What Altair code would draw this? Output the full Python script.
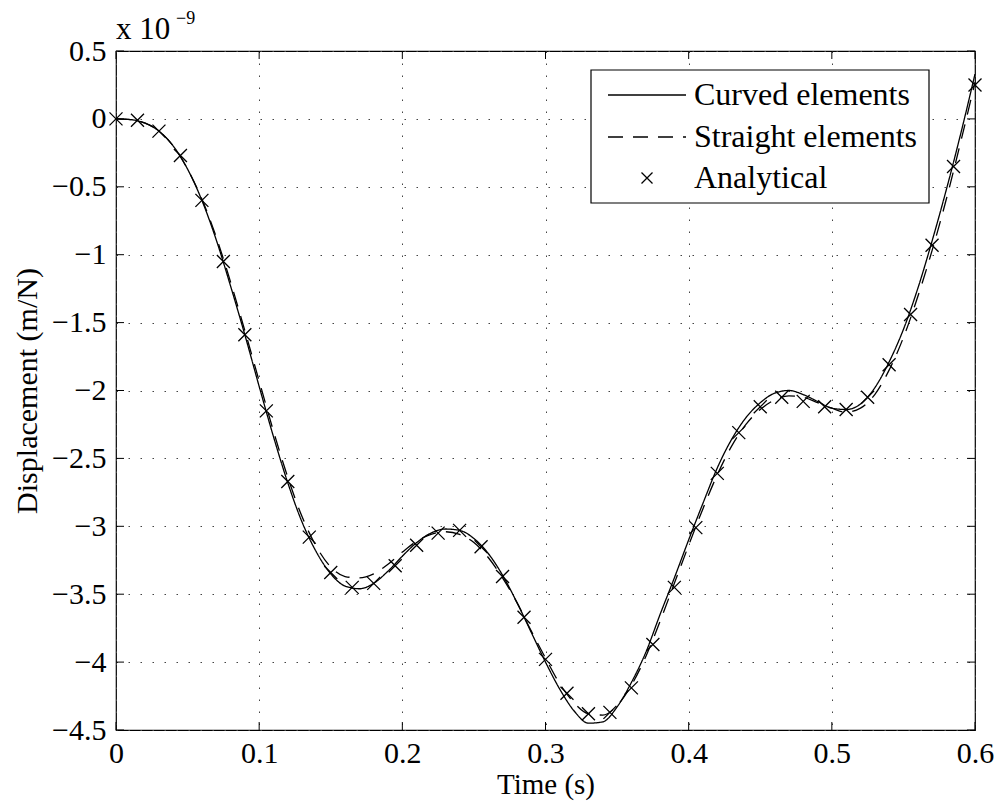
import altair as alt
import pandas as pd

# ---- data (units: 1e-9 m/N) ----
t_curve = [0.00, 0.01, 0.02, 0.03, 0.04, 0.05, 0.06, 0.07, 0.08, 0.09,
           0.10, 0.11, 0.12, 0.13, 0.14, 0.15, 0.16, 0.17, 0.18, 0.19,
           0.20, 0.21, 0.22, 0.23, 0.24, 0.25, 0.26, 0.27, 0.28, 0.29,
           0.30, 0.31, 0.32, 0.33, 0.34, 0.35, 0.36, 0.37, 0.38, 0.39,
           0.40, 0.41, 0.42, 0.43, 0.44, 0.45, 0.46, 0.47, 0.48, 0.49,
           0.50, 0.51, 0.52, 0.53, 0.54, 0.55, 0.56, 0.57, 0.58, 0.59, 0.60]

curved = [0.000, -0.005, -0.03, -0.09, -0.20, -0.37, -0.60, -0.89, -1.23, -1.59,
          -1.97, -2.34, -2.68, -2.97, -3.19, -3.35, -3.44, -3.46, -3.42, -3.33,
          -3.22, -3.12, -3.05, -3.02, -3.03, -3.09, -3.20, -3.36, -3.56, -3.78,
          -4.00, -4.20, -4.36, -4.45, -4.44, -4.33, -4.15, -3.93, -3.65, -3.38,
          -3.10, -2.83, -2.57, -2.36, -2.20, -2.09, -2.02, -2.00, -2.03, -2.08,
          -2.13, -2.14, -2.10, -1.98, -1.79, -1.55, -1.25, -0.90, -0.52, -0.11, 0.33]

straight = [0.000, -0.005, -0.03, -0.09, -0.20, -0.37, -0.59, -0.87, -1.20, -1.56,
            -1.93, -2.30, -2.64, -2.93, -3.15, -3.30, -3.37, -3.38, -3.35, -3.28,
            -3.19, -3.11, -3.06, -3.04, -3.06, -3.12, -3.23, -3.38, -3.56, -3.77,
            -3.97, -4.16, -4.30, -4.38, -4.39, -4.32, -4.17, -3.96, -3.70, -3.42,
            -3.14, -2.87, -2.62, -2.41, -2.25, -2.14, -2.07, -2.04, -2.05, -2.09,
            -2.13, -2.16, -2.13, -2.03, -1.85, -1.61, -1.31, -0.97, -0.59, -0.17, 0.27]

t_analytical = [0.000, 0.015, 0.030, 0.045, 0.060, 0.075, 0.090, 0.105, 0.120, 0.135,
                0.150, 0.165, 0.180, 0.195, 0.210, 0.225, 0.240, 0.255, 0.270, 0.285,
                0.300, 0.315, 0.330, 0.345, 0.360, 0.375, 0.390, 0.405, 0.420, 0.435,
                0.450, 0.465, 0.480, 0.495, 0.510, 0.525, 0.540, 0.555, 0.570, 0.585, 0.600]
analytical = [0.00, -0.01, -0.09, -0.27, -0.60, -1.05, -1.59, -2.15, -2.67, -3.08,
              -3.34, -3.45, -3.42, -3.29, -3.14, -3.05, -3.03, -3.15, -3.37, -3.67,
              -3.98, -4.23, -4.38, -4.37, -4.19, -3.87, -3.45, -3.01, -2.61, -2.31,
              -2.12, -2.05, -2.08, -2.12, -2.14, -2.05, -1.81, -1.44, -0.93, -0.35, 0.25]

series_names = ["Curved elements", "Straight elements", "Analytical"]
x_ticks = [0, 0.1, 0.2, 0.3, 0.4, 0.5, 0.6]
y_ticks = [0.5, 0, -0.5, -1, -1.5, -2, -2.5, -3, -3.5, -4, -4.5]

W, H = 859, 679
FONT = "Liberation Serif"
XMARK = "M-1,-1L1,1M-1,1L1,-1"

lines_df = pd.DataFrame({
    "t": t_curve + t_curve,
    "y": curved + straight,
    "series": [series_names[0]] * len(t_curve) + [series_names[1]] * len(t_curve),
})
pts_df = pd.DataFrame({"t": t_analytical, "y": analytical})

xs = alt.Scale(domain=[0, 0.6], nice=False, zero=False)
ys = alt.Scale(domain=[-4.5, 0.5], nice=False, zero=False)

x_axis = alt.Axis(values=x_ticks, format="~g", title="Time (s)", grid=True,
                  gridDash=[1.5, 10.5], gridColor="#444", gridWidth=1,
                  ticks=False, domain=False, labelFont=FONT, labelFontSize=30,
                  labelColor="black", labelPadding=8, titleFont=FONT,
                  titleFontSize=29, titleFontWeight="normal", titleColor="black",
                  titlePadding=2, labelFlush=False)
y_axis = alt.Axis(values=y_ticks, format="~g", title="Displacement (m/N)", grid=True,
                  gridDash=[1.5, 10.5], gridColor="#444", gridWidth=1,
                  ticks=False, domain=False, labelFont=FONT, labelFontSize=30,
                  labelColor="black", labelPadding=10,
                  labelExpr="replace(datum.label, '-', '\u2212')",
                  titleFont=FONT, titleFontSize=30, titleFontWeight="normal",
                  titleColor="black", titlePadding=9, labelFlush=False)

lines = alt.Chart(lines_df).mark_line(interpolate="monotone", color="black",
                                      strokeWidth=1.3, clip=True).encode(
    x=alt.X("t:Q", scale=xs, axis=x_axis),
    y=alt.Y("y:Q", scale=ys, axis=y_axis),
    strokeDash=alt.StrokeDash("series:N",
                              scale=alt.Scale(domain=series_names[:2],
                                              range=[[1, 0], [15, 10]]),
                              legend=None),
    detail="series:N",
)

points = alt.Chart(pts_df).mark_point(shape=XMARK, size=169, filled=False,
                                      color="black", strokeWidth=1.3,
                                      opacity=1).encode(
    x=alt.X("t:Q", scale=xs),
    y=alt.Y("y:Q", scale=ys),
)

# inward tick marks on all four sides
xt_df = pd.DataFrame({"t": x_ticks})
yt_df = pd.DataFrame({"y": y_ticks})
tick_bottom = alt.Chart(xt_df).mark_rule(color="black", strokeWidth=1).encode(
    x=alt.X("t:Q", scale=xs), y=alt.value(H), y2=alt.value(H - 8))
tick_top = alt.Chart(xt_df).mark_rule(color="black", strokeWidth=1).encode(
    x=alt.X("t:Q", scale=xs), y=alt.value(0), y2=alt.value(8))
tick_left = alt.Chart(yt_df).mark_rule(color="black", strokeWidth=1).encode(
    y=alt.Y("y:Q", scale=ys), x=alt.value(0), x2=alt.value(8))
tick_right = alt.Chart(yt_df).mark_rule(color="black", strokeWidth=1).encode(
    y=alt.Y("y:Q", scale=ys), x=alt.value(W), x2=alt.value(W - 8))

# exponent annotation
one = pd.DataFrame({"a": [0]})
exp_base = alt.Chart(one).mark_text(text="x 10", font=FONT, fontSize=31,
                                    align="left", baseline="alphabetic",
                                    color="black").encode(
    x=alt.value(0), y=alt.value(-12))
exp_sup = alt.Chart(one).mark_text(text="\u22129", font=FONT, fontSize=18,
                                   align="left", baseline="alphabetic",
                                   color="black").encode(
    x=alt.value(60), y=alt.value(-27))

# legend box
LX0, LX1, LY0, LY1 = 475, 813, 19, 152
row_y = [44, 86, 127]
leg_box = alt.Chart(one).mark_rect(fill="white", stroke="black",
                                   strokeWidth=1.2).encode(
    x=alt.value(LX0), x2=alt.value(LX1), y=alt.value(LY0), y2=alt.value(LY1))
leg_l1 = alt.Chart(one).mark_rule(color="black", strokeWidth=1.3).encode(
    x=alt.value(492), x2=alt.value(570), y=alt.value(row_y[0]))
leg_l2 = alt.Chart(one).mark_rule(color="black", strokeWidth=1.3,
                                  strokeDash=[15, 10]).encode(
    x=alt.value(492), x2=alt.value(570), y=alt.value(row_y[1]))
leg_pt = alt.Chart(one).mark_point(shape=XMARK, size=121, filled=False,
                                   color="black", strokeWidth=1.3,
                                   opacity=1).encode(
    x=alt.value(531), y=alt.value(row_y[2]))
leg_text_df = pd.DataFrame({"label": series_names, "py": row_y})
leg_text = alt.Chart(leg_text_df).mark_text(font=FONT, fontSize=32, align="left",
                                            baseline="middle",
                                            color="black").encode(
    x=alt.value(578),
    y=alt.Y("py:Q", scale=None),
    text="label:N",
)

chart = alt.layer(
    lines, points, tick_bottom, tick_top, tick_left, tick_right,
    exp_base, exp_sup, leg_box, leg_l1, leg_l2, leg_pt, leg_text,
).properties(
    width=W, height=H,
    autosize=alt.AutoSizeParams(type="none"),
    padding={"left": 108, "top": 43, "right": 19, "bottom": 71},
    background="white",
).configure_view(stroke="black", strokeWidth=1.2)

chart.save("out.html", embed_options={"renderer": "svg", "actions": False})
